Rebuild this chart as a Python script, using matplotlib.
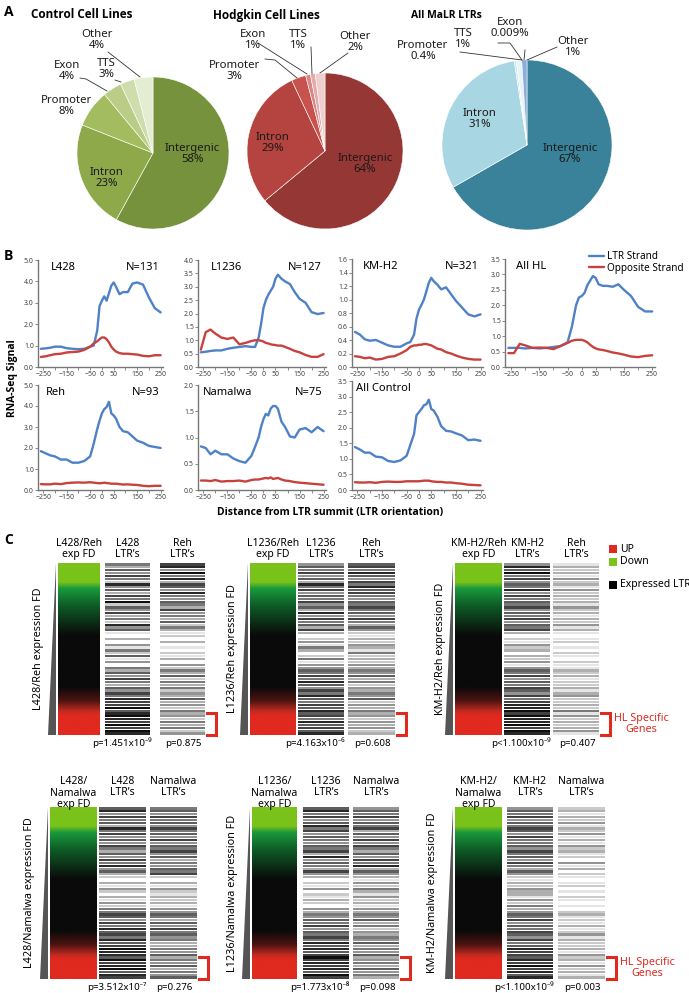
import numpy as np
import matplotlib.pyplot as plt
from matplotlib.colors import LinearSegmentedColormap
from matplotlib.patches import Rectangle

plt.rcParams['font.family'] = ['Noto Sans', 'DejaVu Sans']
BOLD = ['Open Sans', 'DejaVu Sans']

W, H = 689, 993

# ---------------- panel A data ----------------
pie_cats = ['Intergenic', 'Intron', 'Promoter', 'Exon', 'TTS', 'Other']
control_pct = [58, 23, 8, 4, 3, 4]
hodgkin_pct = [64, 29, 3, 1, 1, 2]
malr_pct = [67, 31, 0.4, 0.009, 1, 1]

# ---------------- panel B data ----------------
dist = [-260, -240, -220, -200, -175, -150, -125, -100, -75, -50, -35, -20, -10, 0,
        10, 20, 30, 40, 50, 60, 75, 90, 110, 130, 150, 175, 200, 225, 250]

l428_ltr = [.85, .87, .9, .95, .95, .88, .85, .83, .85, .95, 1.0, 1.7, 2.85, 3.1,
            3.3, 3.1, 3.45, 3.8, 3.95, 3.75, 3.4, 3.5, 3.5, 3.9, 3.95, 3.85, 3.25, 2.75, 2.55]
l428_opp = [.47, .5, .55, .6, .62, .68, .7, .72, .8, .95, 1.1, 1.2, 1.3, 1.38,
            1.38, 1.3, 1.15, .95, .82, .72, .65, .62, .62, .6, .58, .52, .5, .55, .55]
l1236_ltr = [.55, .57, .6, .62, .62, .68, .72, .75, .78, .75, .75, 1.1, 1.6, 2.2,
             2.5, 2.7, 2.85, 3.0, 3.3, 3.45, 3.3, 3.2, 3.1, 2.8, 2.55, 2.4, 2.05, 1.98, 2.02]
l1236_opp = [.65, 1.3, 1.4, 1.25, 1.1, 1.05, 1.1, .85, .9, .97, 1.0, 1.0, .98, .95,
             .9, .88, .85, .83, .82, .8, .8, .75, .68, .6, .55, .45, .38, .38, .48]
kmh2_ltr = [.52, .48, .41, .39, .4, .36, .32, .3, .3, .35, .37, .48, .72, .85,
            .92, 1.0, 1.12, 1.25, 1.32, 1.27, 1.22, 1.15, 1.18, 1.08, .98, .88, .78, .75, .78]
kmh2_opp = [.16, .15, .13, .14, .11, .12, .15, .16, .2, .25, .3, .32, .32, .33,
            .33, .34, .34, .33, .32, .3, .27, .26, .22, .2, .17, .14, .12, .11, .11]
allhl_ltr = [.62, .62, .62, .6, .62, .6, .62, .65, .68, .8, 1.3, 2.0, 2.25, 2.3,
             2.4, 2.65, 2.8, 2.95, 2.88, 2.68, 2.63, 2.63, 2.6, 2.68, 2.5, 2.3, 1.95, 1.8, 1.8]
allhl_opp = [.45, .45, .75, .7, .62, .63, .62, .58, .68, .78, .85, .88, .88, .88,
             .85, .8, .72, .65, .6, .57, .55, .52, .47, .44, .4, .34, .32, .36, .38]
reh_ltr = [1.85, 1.75, 1.65, 1.6, 1.45, 1.45, 1.3, 1.3, 1.38, 1.6, 2.2, 2.9, 3.3, 3.65,
           3.85, 3.95, 4.2, 3.65, 3.55, 3.4, 3.0, 2.8, 2.75, 2.55, 2.35, 2.25, 2.1, 2.05, 2.0]
reh_opp = [.28, .27, .27, .3, .28, .33, .35, .36, .35, .37, .35, .33, .32, .33,
           .35, .33, .32, .3, .3, .3, .28, .26, .27, .25, .24, .2, .18, .2, .2]
namalwa_ltr = [.83, .8, .68, .75, .68, .68, .6, .55, .52, .65, .82, 1.0, 1.2, 1.35,
               1.45, 1.42, 1.55, 1.6, 1.6, 1.55, 1.3, 1.2, 1.02, 1.0, 1.15, 1.18, 1.1, 1.2, 1.12]
namalwa_opp = [.18, .18, .17, .19, .16, .17, .17, .18, .16, .19, .2, .2, .21, .22,
               .23, .22, .24, .21, .22, .23, .2, .18, .17, .15, .14, .13, .12, .11, .1]
allctl_ltr = [1.38, 1.3, 1.2, 1.2, 1.07, 1.05, .93, .9, .95, 1.1, 1.45, 1.8, 2.4, 2.5,
              2.6, 2.72, 2.75, 2.9, 2.6, 2.55, 2.35, 2.05, 1.9, 1.88, 1.82, 1.75, 1.6, 1.62, 1.58]
allctl_opp = [.25, .24, .24, .25, .23, .26, .27, .26, .26, .28, .28, .28, .28, .28,
              .29, .3, .3, .3, .28, .27, .26, .26, .24, .24, .22, .2, .17, .16, .15]

# ---------------- panel C data (grey level 0-9 per LTR row, top = most down) ----------------
l428_reh_l428 = "536475284637" "592647352846" "103041526140" "536475364758" "779689879798"
l428_reh_reh = "784958376485" "465374536253" "120301021304" "253625352436" "342534253524"
l1236_reh_l1236 = "465746385746" "574638475637" "302415302514" "465758647586" "576867586768"
l1236_reh_reh = "675864758675" "465756475364" "213243152324" "354635243546" "243534243423"
kmh2_reh_kmh2 = "486957465847" "565746574657" "302142303241" "465746576475" "788979889798"
kmh2_reh_reh = "132314231423" "231423132413" "101201021021" "132312231342" "232514232341"
l428_nam_l428 = "684756385746" "475364758463" "203142031425" "576475867586" "798869789687"
l428_nam_nam = "564756475647" "465746354657" "203142132314" "465364756453" "354635463546"
l1236_nam_l1236 = "685746857465" "465738465374" "302140213204" "354657465758" "686797878697"
l1236_nam_nam = "465746573647" "475364758364" "314253142314" "354635243546" "354634536453"
kmh2_nam_kmh2 = "465746576475" "564756475364" "213243314253" "465746576475" "687768797868"
kmh2_nam_nam = "231324132413" "142312041302" "101201021010" "231213124132" "231423142313"

p_values = [("p=1.451x10\u207b\u2079", "p=0.875"), ("p=4.163x10\u207b\u2076", "p=0.608"),
            ("p<1.100x10\u207b\u2079", "p=0.407"), ("p=3.512x10\u207b\u2077", "p=0.276"),
            ("p=1.773x10\u207b\u2078", "p=0.098"), ("p<1.100x10\u207b\u2079", "p=0.003")]

fig = plt.figure(figsize=(W / 100, H / 100), dpi=100)


def px_axes(x, y, w, h, **kw):
    return fig.add_axes([x / W, 1 - (y + h) / H, w / W, h / H], **kw)


ov = px_axes(0, 0, W, H, zorder=20)
ov.set_xlim(0, W)
ov.set_ylim(H, 0)
ov.axis('off')

# ---------------- A: pies ----------------
for s, (x, y) in zip('ABC', [(4, 12), (4, 256), (4, 540)]):
    ov.text(x, y, s, fontsize=10, fontweight='bold', family=BOLD, va='center')

pies = [
    (control_pct, ['#76923C', '#8EA94A', '#A3BC60', '#BACD86', '#CFDDAC', '#E4ECD2'],
     (77, 77, 152, 152), 'Control Cell Lines', (82, 15), 8.5),
    (hodgkin_pct, ['#953734', '#B5433F', '#C8524E', '#D98784', '#E5AAA9', '#F0CFCF'],
     (247, 73, 156, 156), 'Hodgkin Cell Lines', (266, 15), 8.5),
    (malr_pct, ['#3A8299', '#A8D6E3', '#C6E6EF', '#DCEFF5', '#E6F3F8', '#8AAEDC'],
     (442, 60, 170, 170), 'All MaLR LTRs', (446, 16), 7.5),
]
for vals, cols, box, title, tpos, tsize in pies:
    ax = px_axes(*box)
    ax.pie(vals, colors=cols, startangle=90, counterclock=False,
           wedgeprops=dict(edgecolor='white', linewidth=0.4))
    ax.set_xlim(-1, 1)
    ax.set_ylim(-1, 1)
    ov.text(tpos[0], tpos[1], title, fontsize=tsize, fontweight='bold', family=BOLD,
            ha='center', va='center')

pie_label_pos = [
    [(192, 154), (107, 178), (66, 106), (67, 71), (106, 69), (97, 40)],
    [(365, 164), (273, 143), (234, 71), (253, 40), (298, 40), (355, 42)],
    [(570, 154), (480, 119), (423, 51), (510, 28), (463, 39), (573, 47)],
]
for vals, poss in zip([control_pct, hodgkin_pct, malr_pct], pie_label_pos):
    for cat, v, (x, y) in zip(pie_cats, vals, poss):
        ov.text(x, y, f"{cat}\n{v}%", fontsize=8.2, ha='center', va='center',
                linespacing=1.05, color='#1a1a1a')

leaders = [
    [(108, 52), (140, 77)], [(80, 78), (86, 79), (107, 91)], [(115, 80), (121, 82)],
    [(258, 43), (307, 74)], [(311, 47), (312, 74)], [(348, 53), (320, 73)],
    [(265, 59), (275, 60), (297, 78)],
    [(498, 43), (510, 43), (522, 60)], [(460, 52), (522, 60)], [(525, 50), (524, 60)],
    [(557, 47), (527, 60)],
]
for seg in leaders:
    xs, ys = zip(*seg)
    ov.plot(xs, ys, color='#333333', lw=0.6)

# ---------------- B: RNA-seq profiles ----------------
blue, red = '#4F81C7', '#C8423D'
b_panels = [
    ('L428', 'N=131', l428_ltr, l428_opp, 5.0, 1.0, (38, 260, 125, 107), 0.1),
    ('L1236', 'N=127', l1236_ltr, l1236_opp, 4.0, 0.5, (198, 260, 128, 107), 0.1),
    ('KM-H2', 'N=321', kmh2_ltr, kmh2_opp, 1.6, 0.2, (352, 259, 131, 108), 0.08),
    ('All HL', '', allhl_ltr, allhl_opp, 3.5, 0.5, (505, 259, 150, 108), 0.07),
    ('Reh', 'N=93', reh_ltr, reh_opp, 5.0, 1.0, (38, 385, 125, 105), 0.06),
    ('Namalwa', 'N=75', namalwa_ltr, namalwa_opp, 2.0, 0.5, (198, 385, 128, 105), 0.04),
    ('All Control', '', allctl_ltr, allctl_opp, 3.5, 0.5, (352, 381, 131, 109), 0.03),
]
for name, n, ltr, opp, ymax, step, box, tx in b_panels:
    ax = px_axes(*box)
    lb, = ax.plot(dist, ltr, color=blue, lw=1.7, solid_capstyle='round')
    lr, = ax.plot(dist, opp, color=red, lw=1.7, solid_capstyle='round')
    ax.set_xlim(-272, 260)
    ax.set_ylim(0, ymax)
    ax.set_xticks([-250, -150, -50, 0, 50, 150, 250])
    ax.set_xticks([-200, -100, 100, 200], minor=True)
    ax.set_yticks(np.arange(0, ymax + 1e-6, step))
    ax.yaxis.set_major_formatter('{x:.1f}')
    for sp in ['top', 'right']:
        ax.spines[sp].set_visible(False)
    for sp in ['left', 'bottom']:
        ax.spines[sp].set_color('#777777')
        ax.spines[sp].set_linewidth(1.0)
    ax.tick_params(which='both', length=2, width=0.6, color='#777777',
                   labelsize=5, labelcolor='#444444', pad=1)
    ax.text(tx, 0.98, name, transform=ax.transAxes, fontsize=8, va='top')
    if n:
        ax.text(0.97, 0.98, n, transform=ax.transAxes, fontsize=8, va='top', ha='right')

fig.legend(handles=[lb, lr], labels=['LTR Strand', 'Opposite Strand'], loc='upper left',
           bbox_to_anchor=(589 / W, 1 - 251 / H), frameon=False, fontsize=7.2,
           handlelength=1.5, handletextpad=0.3, labelspacing=0.05, borderpad=0,
           borderaxespad=0)
ov.text(330, 512, 'Distance from LTR summit (LTR orientation)', fontsize=7.5,
        fontweight='bold', family=BOLD, ha='center', va='center')
ov.text(13, 378, 'RNA-Seq Signal', fontsize=7.5, fontweight='bold', family=BOLD,
        rotation=90, ha='center', va='center')

# ---------------- C: expression fold difference vs LTRs ----------------
fd_cmap = LinearSegmentedColormap.from_list('fd', [
    (0.0, '#7CC31C'), (0.11, '#78C21A'), (0.145, '#19993C'), (0.25, '#0E5A26'),
    (0.42, '#0A0A0A'), (0.72, '#0A0A0A'), (0.8, '#4A1410'), (0.865, '#C42B22'),
    (0.885, '#E0291F'), (1.0, '#E0291F')])
stripe_cmap = LinearSegmentedColormap.from_list('stripe', ['#FFFFFF', '#0E0E0E'])
ramp = np.linspace(0, 1, 400).reshape(-1, 1)

c_groups = [
    ('L428/Reh\nexp FD', 'L428\nLTR\u2019s', 'Reh\nLTR\u2019s', 'L428/Reh expression FD',
     l428_reh_l428, l428_reh_reh, 563, (58, 100), (105, 150), (160, 205), 38, False),
    ('L1236/Reh\nexp FD', 'L1236\nLTR\u2019s', 'Reh\nLTR\u2019s', 'L1236/Reh expression FD',
     l1236_reh_l1236, l1236_reh_reh, 563, (250, 296), (298, 344), (348, 395), 233, False),
    ('KM-H2/Reh\nexp FD', 'KM-H2\nLTR\u2019s', 'Reh\nLTR\u2019s', 'KM-H2/Reh expression FD',
     kmh2_reh_kmh2, kmh2_reh_reh, 563, (455, 502), (504, 550), (553, 599), 440, True),
    ('L428/\nNamalwa\nexp FD', 'L428\nLTR\u2019s', 'Namalwa\nLTR\u2019s', 'L428/Namalwa expression FD',
     l428_nam_l428, l428_nam_nam, 807, (50, 97), (99, 146), (150, 197), 30, False),
    ('L1236/\nNamalwa\nexp FD', 'L1236\nLTR\u2019s', 'Namalwa\nLTR\u2019s', 'L1236/Namalwa expression FD',
     l1236_nam_l1236, l1236_nam_nam, 807, (252, 297), (303, 349), (353, 399), 232, False),
    ('KM-H2/\nNamalwa\nexp FD', 'KM-H2\nLTR\u2019s', 'Namalwa\nLTR\u2019s', 'KM-H2/Namalwa expression FD',
     kmh2_nam_kmh2, kmh2_nam_nam, 807, (455, 502), (507, 553), (558, 605), 432, True),
]
hgt = 172
for (glab, alab, blab, side, sa, sb, top, g, ca, cb, sx, hl), (pa, pb) in zip(c_groups, p_values):
    axg = px_axes(g[0], top, g[1] - g[0], hgt)
    axg.imshow(ramp, cmap=fd_cmap, aspect='auto', interpolation='bilinear')
    axg.axis('off')
    for (c0, c1), s in [(ca, sa), (cb, sb)]:
        axs = px_axes(c0, top, c1 - c0, hgt)
        lv = np.array([int(ch) for ch in s])
        axs.barh(np.arange(len(lv)), 1, height=0.78, left=0, color=stripe_cmap(lv / 9), lw=0)
        axs.set_xlim(0, 1)
        axs.set_ylim(len(lv) - 0.5, -0.5)
        axs.axis('off')
    # ranking wedge
    ov.fill([g[0] - 2, g[0] - 10, g[0] - 2], [top, top + hgt, top + hgt], color='#555555', lw=0)
    # labels
    three = glab.count('\n') == 2
    ov.text((g[0] + g[1]) / 2, top - 14, glab, fontsize=7.5, ha='center', va='center',
            linespacing=1.1)
    ov.text((ca[0] + ca[1]) / 2, top - 14 - (6 if three else 0), alab,
            fontsize=7.5, ha='center', va='center', linespacing=1.1)
    ov.text((cb[0] + cb[1]) / 2, top - 14 - (6 if three else 0), blab, fontsize=7.5,
            ha='center', va='center', linespacing=1.1)
    ov.text(sx, top + hgt / 2, side, fontsize=7.8, rotation=90, ha='center', va='center')
    ov.text((ca[0] + ca[1]) / 2 - 6, top + hgt + 8, pa, fontsize=7, ha='center', va='center')
    ov.text((cb[0] + cb[1]) / 2 + 1, top + hgt + 8, pb, fontsize=7, ha='center', va='center')
    # HL specific bracket
    bx = cb[1] + 2
    ov.plot([bx, bx + 9, bx + 9, bx], [top + hgt - 22, top + hgt - 22, top + hgt, top + hgt],
            color='#E0291F', lw=2.2, solid_joinstyle='miter')
    if hl:
        ov.text(bx + 13, top + hgt - 11, 'HL Specific\nGenes', fontsize=7.8, color='#E0291F',
                ha='left', va='center', linespacing=1.1, multialignment='center')

for y, col, lab in [(545, '#E0291F', 'UP'), (558, '#7CC31C', 'Down'), (581, '#000000', 'Expressed LTR')]:
    ov.add_patch(Rectangle((609, y), 8, 8, color=col, lw=0))
    ov.text(620, y + 4, lab, fontsize=7.5, va='center')

fig.savefig('out.png', dpi=100)
